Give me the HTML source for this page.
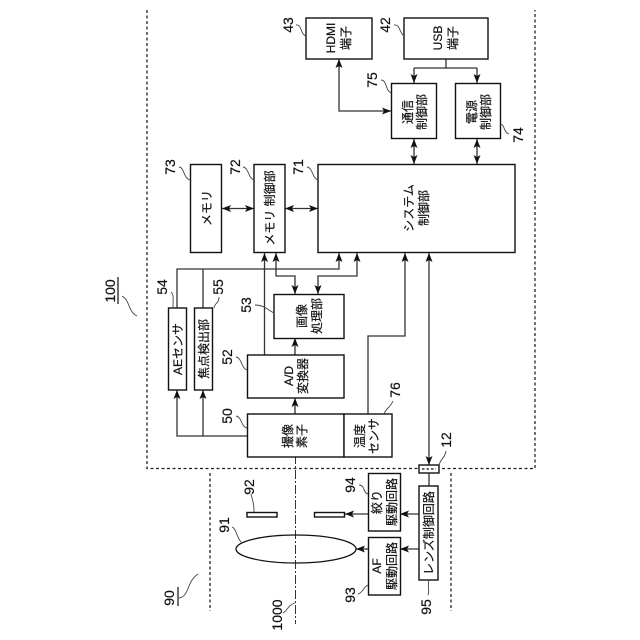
<!DOCTYPE html>
<html><head><meta charset="utf-8"><style>
html,body{margin:0;padding:0;background:#fff}
svg{display:block}
text{font-family:"Liberation Sans","Noto Sans CJK JP",sans-serif;fill:#111;text-anchor:middle;dominant-baseline:central;stroke:#111;stroke-width:.2}
.t{font-size:12px}
.n{font-size:14px}
.b{fill:#fff;stroke:#111;stroke-width:1.4}
.l{fill:none;stroke:#333;stroke-width:1.3}
.c{fill:none;stroke:#444;stroke-width:.9}
.d{fill:none;stroke:#222;stroke-width:1.3;stroke-dasharray:3 2.500}
</style></head><body>
<svg width="640" height="640" viewBox="0 0 640 640" xmlns="http://www.w3.org/2000/svg">
<defs>
<marker id="a" viewBox="0 0 9 7" refX="9" refY="3.500" markerWidth="9" markerHeight="7" markerUnits="userSpaceOnUse" orient="auto-start-reverse"><path d="M0 0L9 3.500L0 7L2 3.500Z" fill="#111"/></marker>
</defs>
<!-- dashed outlines -->
<path class="d" d="M147 10V468.500H535V10"/>
<path class="d" d="M210 473V611M451 473V611"/>
<path d="M295.500 440V624" fill="none" stroke="#333" stroke-width="1" stroke-dasharray="9 2 2 2"/>

<!-- connectors -->
<g class="l">
<path d="M446 59V68M414 68H477"/>
<path d="M414 68V83" marker-end="url(#a)"/>
<path d="M477 68V83" marker-end="url(#a)"/>
<path d="M339 59V111H391" marker-start="url(#a)" marker-end="url(#a)"/>
<path d="M414 139V164" marker-start="url(#a)" marker-end="url(#a)"/>
<path d="M477 139V164" marker-start="url(#a)" marker-end="url(#a)"/>
<path d="M222 208.500H254" marker-start="url(#a)" marker-end="url(#a)"/>
<path d="M285 208.500H318" marker-start="url(#a)" marker-end="url(#a)"/>
<path d="M177 308V269H339V253" marker-end="url(#a)"/>
<path d="M203 308V269"/>
<path d="M264.500 355V253" marker-end="url(#a)"/>
<path d="M276 253V276H295V294" marker-start="url(#a)" marker-end="url(#a)"/>
<path d="M357 253V276H318V294" marker-start="url(#a)" marker-end="url(#a)"/>
<path d="M368 414V336H405V253" marker-end="url(#a)"/>
<path d="M429 253V465" marker-start="url(#a)" marker-end="url(#a)"/>
<path d="M295 355V338" marker-end="url(#a)"/>
<path d="M295 414V398" marker-end="url(#a)"/>
<path d="M247 436H177V390" marker-end="url(#a)"/>
<path d="M203 436V390" marker-end="url(#a)"/>
<path d="M429 473V486"/>
<path d="M419 514H400" marker-end="url(#a)"/>
<path d="M368 514H345" marker-end="url(#a)"/>
<path d="M419 549H400" marker-end="url(#a)"/>
<path d="M368 549H356" marker-end="url(#a)"/>
</g>

<!-- boxes -->
<rect class="b" x="306" y="18" width="66" height="41"/>
<rect class="b" x="404" y="18" width="84" height="41"/>
<rect class="b" x="391.500" y="83.500" width="45" height="55"/>
<rect class="b" x="455.500" y="83.500" width="45" height="55"/>
<rect class="b" x="190.500" y="164.500" width="31" height="88"/>
<rect class="b" x="254" y="164.500" width="31" height="88"/>
<rect class="b" x="318" y="164.500" width="197" height="88"/>
<rect class="b" x="274" y="294.500" width="70" height="44"/>
<rect class="b" x="247.500" y="355" width="96.500" height="43"/>
<rect class="b" x="247.500" y="414" width="96.500" height="43"/>
<rect class="b" x="344" y="414" width="48" height="43"/>
<rect class="b" x="168.500" y="308" width="18" height="82"/>
<rect class="b" x="194.500" y="308" width="18" height="82"/>
<rect class="b" x="419" y="465" width="20" height="8"/>
<path d="M422 469H436" stroke="#111" stroke-width="1.300" stroke-dasharray="2.500 2" fill="none"/>
<rect class="b" x="368.500" y="473.500" width="32" height="57.500"/>
<rect class="b" x="368.500" y="537.500" width="32" height="57.500"/>
<rect class="b" x="419" y="486" width="19" height="94"/>
<rect class="b" x="247" y="512.500" width="30" height="4.500"/>
<rect class="b" x="314.500" y="512.500" width="30" height="4.500"/>
<ellipse cx="296" cy="549" rx="60" ry="14" fill="none" stroke="#111" stroke-width="1.300"/>

<!-- box labels -->
<g class="t">
<text transform="translate(331,38) rotate(-90)">HDMI</text>
<text transform="translate(346,38) rotate(-90)">端子</text>
<text transform="translate(438,38) rotate(-90)">USB</text>
<text transform="translate(453,38) rotate(-90)">端子</text>
<text transform="translate(408,112) rotate(-90)">通信</text>
<text transform="translate(422,112) rotate(-90)">制御部</text>
<text transform="translate(472,112) rotate(-90)">電源</text>
<text transform="translate(486,112) rotate(-90)">制御部</text>
<text transform="translate(207,208) rotate(-90)">メモリ</text>
<text transform="translate(270,208) rotate(-90)">メモリ 制御部</text>
<text transform="translate(409,208) rotate(-90)">システム</text>
<text transform="translate(424,208) rotate(-90)">制御部</text>
<text transform="translate(302,316) rotate(-90)">画像</text>
<text transform="translate(317,316) rotate(-90)">処理部</text>
<text transform="translate(289,376) rotate(-90)">A/D</text>
<text transform="translate(303,376) rotate(-90)">変換器</text>
<text transform="translate(288,436) rotate(-90)">撮像</text>
<text transform="translate(302,436) rotate(-90)">素子</text>
<text transform="translate(360,436) rotate(-90)">温度</text>
<text transform="translate(374,436) rotate(-90)">センサ</text>
<text transform="translate(178,349) rotate(-90)">AEセンサ</text>
<text transform="translate(204,349) rotate(-90)">焦点検出部</text>
<text transform="translate(377,502) rotate(-90)">絞り</text>
<text transform="translate(392,502) rotate(-90)">駆動回路</text>
<text transform="translate(377,566) rotate(-90)">AF</text>
<text transform="translate(392,566) rotate(-90)">駆動回路</text>
<text transform="translate(429,533) rotate(-90)">レンズ制御回路</text>
</g>

<!-- ref numbers -->
<g class="n">
<text transform="translate(288,25) rotate(-90)">43</text>
<text transform="translate(385,25) rotate(-90)">42</text>
<text transform="translate(372,80) rotate(-90)">75</text>
<text transform="translate(518,135) rotate(-90)">74</text>
<text transform="translate(170,167) rotate(-90)">73</text>
<text transform="translate(235,167) rotate(-90)">72</text>
<text transform="translate(298,167) rotate(-90)">71</text>
<text transform="translate(162,287) rotate(-90)">54</text>
<text transform="translate(218,287) rotate(-90)">55</text>
<text transform="translate(246,305) rotate(-90)">53</text>
<text transform="translate(227,357) rotate(-90)">52</text>
<text transform="translate(227,416) rotate(-90)">50</text>
<text transform="translate(395,390) rotate(-90)">76</text>
<text transform="translate(446,440) rotate(-90)">12</text>
<text transform="translate(249,487) rotate(-90)">92</text>
<text transform="translate(350,485) rotate(-90)">94</text>
<text transform="translate(224,525) rotate(-90)">91</text>
<text transform="translate(350,595) rotate(-90)">93</text>
<text transform="translate(426,607) rotate(-90)">95</text>
<text transform="translate(277,615) rotate(-90)">1000</text>
<text transform="translate(169,598) rotate(-90)">90</text>
<text transform="translate(110,291) rotate(-90)">100</text>
</g>
<path d="M178 587V606M118 277V304" stroke="#222" stroke-width="1.300" fill="none"/>

<!-- leaders -->
<g class="c">
<path d="M296 25C302 24 300 34 306 36"/>
<path d="M394 25C400 24 399 32 404 36"/>
<path d="M381 80C387 80 385 90 391 93"/>
<path d="M500 124C505 124 503 132 509 134"/>
<path d="M179 167C185 168 183 178 190 180"/>
<path d="M243 167C249 168 248 178 254 180"/>
<path d="M307 167C313 168 312 178 318 180"/>
<path d="M171 292C174 294 173 300 173 308"/>
<path d="M214 308C215 302 219 304 219 297"/>
<path d="M255 305C264 305 268 310 274 313"/>
<path d="M236 357C242 358 241 368 247 370"/>
<path d="M236 416C242 417 241 427 247 428"/>
<path d="M384 414C386 408 390 408 393 401"/>
<path d="M439 465C441 458 445 458 446 451"/>
<path d="M251 494C253 502 254 504 254 512"/>
<path d="M359 485C365 485 363 493 368 494"/>
<path d="M232 527C236 528 237 538 241 542"/>
<path d="M358 594C363 593 363 587 368 585"/>
<path d="M428 595C430 590 427 587 429 580"/>
<path d="M283 613C288 610 288 605 295 603"/>
<path d="M179 598C190 596 186 582 198 574"/>
<path d="M122 296C130 300 128 312 137 316"/>
</g>
</svg>
</body></html>
